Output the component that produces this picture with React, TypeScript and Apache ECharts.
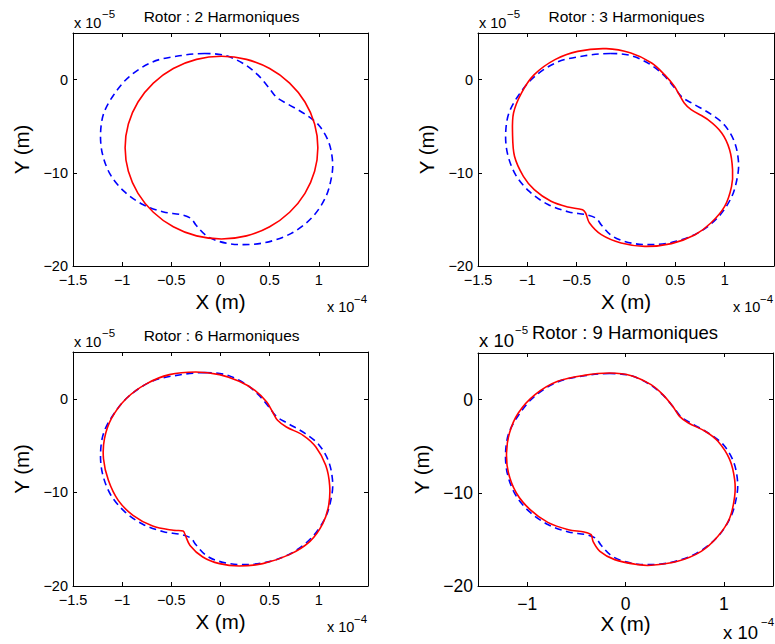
import React, { useEffect, useRef } from "react";
import * as echarts from "echarts";

// Reference orbit (blue dashed), X in 1e-4 m, Y in 1e-5 m
const orbitX = [-0.16, -0.42, -0.69, -0.93, -1.09, -1.19, -1.22, -1.2, -1.12, -0.98, -0.79, -0.58, -0.4, -0.3, -0.25, -0.15, -0.02, 0.18, 0.45, 0.72, 0.93, 1.07, 1.13, 1.14, 1.1, 1.0, 0.86, 0.68, 0.57, 0.49, 0.38, 0.25, 0.06];
const orbitY = [2.8, 2.55, 1.9, 0.3, -1.7, -3.7, -5.9, -8.0, -10.2, -12.0, -13.4, -14.2, -14.5, -14.9, -15.6, -16.7, -17.35, -17.7, -17.5, -16.5, -14.8, -12.6, -10.4, -8.8, -6.7, -4.9, -3.7, -2.6, -1.9, -0.85, 0.5, 1.6, 2.55];

// Rotor, 2 harmonics (red)
const h2X = [0.01, 0.264, 0.5, 0.703, 0.859, 0.957, 0.99, 0.957, 0.859, 0.703, 0.5, 0.264, 0.01, -0.244, -0.48, -0.683, -0.839, -0.937, -0.97, -0.937, -0.839, -0.683, -0.48, -0.244];
const h2Y = [2.5, 2.17, 1.19, -0.37, -2.4, -4.76, -7.3, -9.84, -12.2, -14.23, -15.79, -16.77, -17.1, -16.77, -15.79, -14.23, -12.2, -9.84, -7.3, -4.76, -2.4, -0.37, 1.19, 2.17];

// Rotor, 3 harmonics (red)
const h3X = [-0.2, -0.49, -0.72, -0.93, -1.06, -1.14, -1.15, -1.13, -1.04, -0.93, -0.76, -0.59, -0.44, -0.41, -0.37, -0.25, -0.05, 0.19, 0.46, 0.7, 0.86, 1.0, 1.07, 1.08, 1.05, 0.97, 0.83, 0.66, 0.59, 0.54, 0.49, 0.39, 0.26, 0.05];
const h3Y = [3.32, 3.03, 2.14, 0.53, -1.44, -3.58, -5.73, -8.23, -10.38, -11.8, -13.06, -13.67, -13.96, -14.31, -15.39, -16.64, -17.53, -17.89, -17.6, -16.64, -15.39, -13.6, -11.45, -9.66, -7.52, -5.73, -4.3, -3.23, -2.51, -1.62, -0.72, 0.53, 1.78, 2.85];

// Rotor, 6 harmonics (red)
const h6X = [-0.25, -0.52, -0.75, -0.96, -1.11, -1.18, -1.19, -1.14, -1.04, -0.89, -0.69, -0.48, -0.38, -0.36, -0.31, -0.18, -0.01, 0.19, 0.43, 0.7, 0.91, 1.04, 1.1, 1.11, 1.07, 0.97, 0.84, 0.67, 0.58, 0.53, 0.47, 0.35, 0.19, -0.01];
const h6Y = [2.86, 2.58, 1.62, 0.01, -2.12, -4.26, -6.4, -8.71, -10.85, -12.45, -13.59, -14.05, -14.12, -14.52, -15.66, -16.9, -17.61, -17.86, -17.61, -16.65, -15.23, -13.34, -11.38, -9.25, -7.11, -5.15, -3.9, -3.01, -2.3, -1.41, -0.34, 0.9, 1.87, 2.58];

// Rotor, 9 harmonics (red)
const h9X = [-0.16, -0.42, -0.69, -0.92, -1.09, -1.18, -1.21, -1.19, -1.11, -0.97, -0.79, -0.58, -0.42, -0.35, -0.33, -0.26, -0.11, 0.13, 0.26, 0.53, 0.77, 0.94, 1.06, 1.11, 1.11, 1.06, 0.94, 0.81, 0.64, 0.55, 0.48, 0.38, 0.26, 0.06];
const h9Y = [2.85, 2.6, 1.96, 0.53, -1.44, -3.58, -5.73, -7.88, -10.02, -11.81, -13.17, -13.96, -14.21, -14.49, -15.21, -16.28, -17.17, -17.71, -17.78, -17.35, -16.28, -14.67, -12.7, -10.38, -8.59, -6.44, -4.48, -3.4, -2.51, -1.8, -0.72, 0.53, 1.6, 2.57];

const titles = ["Rotor : 2 Harmoniques", "Rotor : 3 Harmoniques", "Rotor : 6 Harmoniques", "Rotor : 9 Harmoniques"];
const xTicksFine = [-1.5, -1, -0.5, 0, 0.5, 1];
const xTicksCoarse = [-1, 0, 1];
const yTicks = [-20, -10, 0];
const xName = "X (m)";
const yName = "Y (m)";
const yExp = "−5";
const xExp = "−4";

const FONT = "'Liberation Sans', Arial, Helvetica, sans-serif";

// each curve is a closed loop: the last listed point joins back to the first
const pairs = (xs: number[], ys: number[]) => xs.map((x, i) => [x, ys[i]]);
const fmt = (v: number) => (v < 0 ? "\u2212" + Math.abs(v) : String(v));

// smooth closed path through pixel points (tangent-based cubic Bézier)
function closedSmoothPath(px: number[][], t = 1 / 3): string {
  const n = px.length;
  const dist = (a: number[], b: number[]) => Math.hypot(b[0] - a[0], b[1] - a[1]) || 1e-6;
  let d = `M${px[0][0].toFixed(2)},${px[0][1].toFixed(2)}`;
  for (let i = 0; i < n; i++) {
    const p0 = px[(i - 1 + n) % n], p1 = px[i], p2 = px[(i + 1) % n], p3 = px[(i + 2) % n];
    const d01 = dist(p0, p1), d12 = dist(p1, p2), d23 = dist(p2, p3);
    const k1 = (t * d12) / (d01 + d12);
    const k2 = (t * d12) / (d12 + d23);
    const c1x = p1[0] + (p2[0] - p0[0]) * k1;
    const c1y = p1[1] + (p2[1] - p0[1]) * k1;
    const c2x = p2[0] - (p3[0] - p1[0]) * k2;
    const c2y = p2[1] - (p3[1] - p1[1]) * k2;
    d += ` C${c1x.toFixed(2)},${c1y.toFixed(2)} ${c2x.toFixed(2)},${c2y.toFixed(2)} ${p2[0].toFixed(2)},${p2[1].toFixed(2)}`;
  }
  return d + " Z";
}

function curveSeries(pts: number[][], axis: number, style: any) {
  return {
    type: "custom",
    coordinateSystem: "cartesian2d",
    xAxisIndex: axis,
    yAxisIndex: axis,
    data: pts,
    encode: { x: 0, y: 1 },
    silent: true,
    clip: false,
    renderItem: (params: any, api: any) => {
      if (params.dataIndex !== 0) return null;
      const px = pts.map((p) => api.coord(p));
      return {
        type: "path",
        shape: { pathData: closedSmoothPath(px) },
        style: { fill: "none", ...style },
      };
    },
  };
}

const panels = [
  { left: 73, top: 33, width: 295, height: 233, red: pairs(h2X, h2Y), xt: xTicksFine, big: false, tx: 221.6, ty: 16 },
  { left: 478, top: 33, width: 296, height: 233, red: pairs(h3X, h3Y), xt: xTicksFine, big: false, tx: 626.5, ty: 16 },
  { left: 73, top: 352, width: 295, height: 234, red: pairs(h6X, h6Y), xt: xTicksFine, big: false, tx: 221.6, ty: 335.5 },
  { left: 478, top: 353, width: 295, height: 233, red: pairs(h9X, h9Y), xt: xTicksCoarse, big: true, tx: 625, ty: 332.5 },
];

export default function App() {
  const ref = useRef<HTMLDivElement>(null);
  useEffect(() => {
    if (!ref.current) return;
    const chart = echarts.init(ref.current, null, { renderer: "svg" });
    const grid: any[] = [];
    const xAxis: any[] = [];
    const yAxis: any[] = [];
    const series: any[] = [];
    const graphic: any[] = [];
    const orbit = pairs(orbitX, orbitY);

    panels.forEach((p, i) => {
      const big = p.big;
      const tickFs = big ? 17.5 : 14.5;
      grid.push({ left: p.left, top: p.top, width: p.width, height: p.height, containLabel: false });
      const line = { show: true, onZero: false, lineStyle: { color: "#000", width: 1 } };
      const tick = (vals: number[]) => ({ show: true, inside: true, length: 4, customValues: vals, lineStyle: { color: "#000", width: 1 } });
      xAxis.push({
        type: "value", gridIndex: i, min: -1.5, max: 1.5, position: "bottom",
        axisLine: line, axisTick: tick(p.xt),
        axisLabel: { show: true, customValues: p.xt, formatter: fmt, color: "#000", fontSize: tickFs, fontFamily: FONT, margin: big ? 8.5 : 6.5 },
        splitLine: { show: false },
        name: xName, nameLocation: "middle", nameGap: big ? 22 : 25,
        nameTextStyle: { color: "#000", fontSize: 20.5, fontFamily: FONT },
      });
      xAxis.push({
        type: "value", gridIndex: i, min: -1.5, max: 1.5, position: "top",
        axisLine: line, axisTick: tick(p.xt), axisLabel: { show: false }, splitLine: { show: false },
      });
      yAxis.push({
        type: "value", gridIndex: i, min: -20, max: 5, position: "left",
        axisLine: line, axisTick: tick(yTicks),
        axisLabel: { show: true, customValues: yTicks, formatter: fmt, color: "#000", fontSize: tickFs, fontFamily: FONT, margin: 5 },
        splitLine: { show: false },
        name: yName, nameLocation: "middle", nameGap: big ? 46 : 41, nameRotate: 90,
        nameTextStyle: { color: "#000", fontSize: 20.5, fontFamily: FONT },
      });
      yAxis.push({
        type: "value", gridIndex: i, min: -20, max: 5, position: "right",
        axisLine: line, axisTick: tick(yTicks), axisLabel: { show: false }, splitLine: { show: false },
      });
      series.push(curveSeries(orbit, 2 * i, { stroke: "#0000ff", lineWidth: 1.6, lineDash: [7, 4.5] }));
      series.push(curveSeries(p.red, 2 * i, { stroke: "#ff0000", lineWidth: 1.6 }));

      const titleFs = big ? 18.5 : 15.5;
      graphic.push({
        type: "text", x: p.tx, y: p.ty,
        style: { text: titles[i], font: `${titleFs}px ${FONT}`, fill: "#000", align: "center", verticalAlign: "middle" },
      });
      // y exponent: x 10^-5
      const ef = big ? 18.5 : 14.5;
      const sf = 11.5;
      const ey = big ? p.top - 13 : p.top - 10.5;
      graphic.push({
        type: "text", x: p.left + 1, y: ey,
        style: { text: "x 10", font: `${ef}px ${FONT}`, fill: "#000", align: "left", verticalAlign: "middle" },
      });
      graphic.push({
        type: "text", x: p.left + (big ? 37 : 29), y: ey - (big ? 10 : 8.5),
        style: { text: yExp, font: `${sf}px ${FONT}`, fill: "#000", align: "left", verticalAlign: "middle" },
      });
      // x exponent: x 10^-4
      const bx = p.left + p.width - (big ? 50 : 41);
      const by = p.top + p.height + (big ? 46 : 41);
      graphic.push({
        type: "text", x: bx, y: by,
        style: { text: "x 10", font: `${ef}px ${FONT}`, fill: "#000", align: "left", verticalAlign: "middle" },
      });
      graphic.push({
        type: "text", x: bx + (big ? 38 : 27), y: by - (big ? 10 : 8.5),
        style: { text: xExp, font: `${sf}px ${FONT}`, fill: "#000", align: "left", verticalAlign: "middle" },
      });
    });

    chart.setOption({
      animation: false,
      backgroundColor: "#ffffff",
      textStyle: { fontFamily: FONT },
      grid, xAxis, yAxis, series, graphic,
    });
    return () => chart.dispose();
  }, []);
  return <div ref={ref} style={{ position: "fixed", left: 0, top: 0, width: 775, height: 644 }} />;
}
